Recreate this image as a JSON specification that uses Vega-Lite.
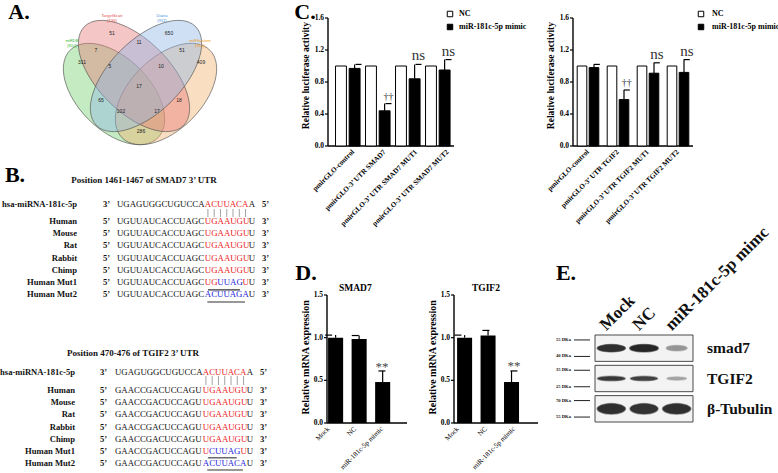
{
"$schema":"https://vega.github.io/schema/vega-lite/v6.json",
"width":778,"height":473,"autosize":{"type":"none"},"padding":0,"background":"white",
"config":{"view":{"stroke":null},"font":"Liberation Serif"},
"datasets":{
 "one":[{"k":1}],
 "letters":[{"id":"A","t":"A."},{"id":"B","t":"B."},{"id":"C","t":"C."},{"id":"D","t":"D."},{"id":"E","t":"E."},{"id":"D1","t":"SMAD7"},{"id":"D2","t":"TGIF2"},{"id":"CT","t":"Relative luciferase activity"},{"id":"DT","t":"Relative mRNA expression"}],
 "cticks":[{"v":0},{"v":0.4},{"v":0.8},{"v":1.2},{"v":1.6}],
 "dticks":[{"v":0},{"v":0.5},{"v":1.0},{"v":1.5}],
 "venn_sets":[
  {"set":"miRDB","label":"miRDB\n(810)","cx":54,"cy":84,"lx":12,"ly":31},
  {"set":"TargetScan","label":"TargetScan\n(136)","cx":74,"cy":66,"lx":52,"ly":6},
  {"set":"Diana","label":"Diana\n(911)","cx":86,"cy":66,"lx":102,"ly":6},
  {"set":"miRSystem","label":"miRSystem\n(910)","cx":106,"cy":84,"lx":140,"ly":31}],
 "venn_counts":[
  {"n":"311","x":22,"y":52},{"n":"51","x":52,"y":23},{"n":"650","x":109,"y":23},{"n":"409","x":141,"y":52},
  {"n":"7","x":36,"y":40},{"n":"11","x":79,"y":32},{"n":"51","x":122,"y":40},{"n":"5","x":50,"y":56},
  {"n":"10","x":101,"y":56},{"n":"17","x":79,"y":76},{"n":"65","x":41,"y":90},{"n":"18","x":119,"y":90},
  {"n":"102","x":61,"y":101},{"n":"17","x":97,"y":101},{"n":"286","x":81,"y":121}],
 "seqs":[
  {"block":1,"row":"hsa-miRNA-181c-5p","col":0,"seq":"UGAGUGGCUGUCCA","part":"flank"},
  {"block":1,"row":"hsa-miRNA-181c-5p","col":14,"seq":"ACUUACA","part":"seed"},
  {"block":1,"row":"hsa-miRNA-181c-5p","col":21,"seq":"A","part":"flank"},
  {"block":1,"row":"Human","col":0,"seq":"UGUUAUCACCUAGC","part":"flank"},{"block":1,"row":"Human","col":14,"seq":"UGAAUGU","part":"seed"},{"block":1,"row":"Human","col":21,"seq":"U","part":"flank"},
  {"block":1,"row":"Mouse","col":0,"seq":"UGUUAUCACCUAGC","part":"flank"},{"block":1,"row":"Mouse","col":14,"seq":"UGAAUGU","part":"seed"},{"block":1,"row":"Mouse","col":21,"seq":"U","part":"flank"},
  {"block":1,"row":"Rat","col":0,"seq":"UGUUAUCACCUAGC","part":"flank"},{"block":1,"row":"Rat","col":14,"seq":"UGAAUGU","part":"seed"},{"block":1,"row":"Rat","col":21,"seq":"U","part":"flank"},
  {"block":1,"row":"Rabbit","col":0,"seq":"UGUUAUCACCUAGC","part":"flank"},{"block":1,"row":"Rabbit","col":14,"seq":"UGAAUGU","part":"seed"},{"block":1,"row":"Rabbit","col":21,"seq":"U","part":"flank"},
  {"block":1,"row":"Chimp","col":0,"seq":"UGUUAUCACCUAGC","part":"flank"},{"block":1,"row":"Chimp","col":14,"seq":"UGAAUGU","part":"seed"},{"block":1,"row":"Chimp","col":21,"seq":"U","part":"flank"},
  {"block":1,"row":"Human Mut1","col":0,"seq":"UGUUAUCACCUAGC","part":"flank"},{"block":1,"row":"Human Mut1","col":14,"seq":"UG","part":"seed"},{"block":1,"row":"Human Mut1","col":16,"seq":"UUAG","part":"mut"},{"block":1,"row":"Human Mut1","col":20,"seq":"U","part":"seed"},{"block":1,"row":"Human Mut1","col":21,"seq":"U","part":"flank"},
  {"block":1,"row":"Human Mut2","col":0,"seq":"UGUUAUCACCUAGC","part":"flank"},{"block":1,"row":"Human Mut2","col":14,"seq":"ACUUAGA","part":"mut"},{"block":1,"row":"Human Mut2","col":21,"seq":"U","part":"flank"},
  {"block":2,"row":"hsa-miRNA-181c-5p","col":0,"seq":"UGAGUGGCUGUCCA","part":"flank"},
  {"block":2,"row":"hsa-miRNA-181c-5p","col":14,"seq":"ACUUACA","part":"seed"},
  {"block":2,"row":"hsa-miRNA-181c-5p","col":21,"seq":"A","part":"flank"},
  {"block":2,"row":"Human","col":0,"seq":"GAACCGACUCCAGU","part":"flank"},{"block":2,"row":"Human","col":14,"seq":"UGAAUGU","part":"seed"},{"block":2,"row":"Human","col":21,"seq":"U","part":"flank"},
  {"block":2,"row":"Mouse","col":0,"seq":"GAACCGACUCCAGU","part":"flank"},{"block":2,"row":"Mouse","col":14,"seq":"UGAAUGU","part":"seed"},{"block":2,"row":"Mouse","col":21,"seq":"U","part":"flank"},
  {"block":2,"row":"Rat","col":0,"seq":"GAACCGACUCCAGU","part":"flank"},{"block":2,"row":"Rat","col":14,"seq":"UGAAUGU","part":"seed"},{"block":2,"row":"Rat","col":21,"seq":"U","part":"flank"},
  {"block":2,"row":"Rabbit","col":0,"seq":"GAACCGACUCCAGU","part":"flank"},{"block":2,"row":"Rabbit","col":14,"seq":"UGAAUGU","part":"seed"},{"block":2,"row":"Rabbit","col":21,"seq":"U","part":"flank"},
  {"block":2,"row":"Chimp","col":0,"seq":"GAACCGACUCCAGU","part":"flank"},{"block":2,"row":"Chimp","col":14,"seq":"UGAAUGU","part":"seed"},{"block":2,"row":"Chimp","col":21,"seq":"U","part":"flank"},
  {"block":2,"row":"Human Mut1","col":0,"seq":"GAACCGACUCCAGU","part":"flank"},{"block":2,"row":"Human Mut1","col":14,"seq":"U","part":"seed"},{"block":2,"row":"Human Mut1","col":15,"seq":"CUUAG","part":"mut"},{"block":2,"row":"Human Mut1","col":20,"seq":"U","part":"seed"},{"block":2,"row":"Human Mut1","col":21,"seq":"U","part":"flank"},
  {"block":2,"row":"Human Mut2","col":0,"seq":"GAACCGACUCCAGU","part":"flank"},{"block":2,"row":"Human Mut2","col":14,"seq":"ACUUACA","part":"mut"},{"block":2,"row":"Human Mut2","col":21,"seq":"U","part":"flank"}],
 "rows":[
  {"block":1,"row":"hsa-miRNA-181c-5p","p5":"3’","p3":"5’"},{"block":1,"row":"Human","p5":"5’","p3":"3’"},{"block":1,"row":"Mouse","p5":"5’","p3":"3’"},{"block":1,"row":"Rat","p5":"5’","p3":"3’"},{"block":1,"row":"Rabbit","p5":"5’","p3":"3’"},{"block":1,"row":"Chimp","p5":"5’","p3":"3’"},{"block":1,"row":"Human Mut1","p5":"5’","p3":"3’"},{"block":1,"row":"Human Mut2","p5":"5’","p3":"3’"},
  {"block":2,"row":"hsa-miRNA-181c-5p","p5":"3’","p3":"5’"},{"block":2,"row":"Human","p5":"5’","p3":"3’"},{"block":2,"row":"Mouse","p5":"5’","p3":"3’"},{"block":2,"row":"Rat","p5":"5’","p3":"3’"},{"block":2,"row":"Rabbit","p5":"5’","p3":"3’"},{"block":2,"row":"Chimp","p5":"5’","p3":"3’"},{"block":2,"row":"Human Mut1","p5":"5’","p3":"3’"},{"block":2,"row":"Human Mut2","p5":"5’","p3":"3’"}],
 "blocks":[{"block":1,"title":"Position 1461-1467 of SMAD7 3’ UTR"},{"block":2,"title":"Position 470-476 of TGIF2 3’ UTR"}],
 "pairs":[{"block":1,"col":14},{"block":1,"col":15},{"block":1,"col":16},{"block":1,"col":17},{"block":1,"col":18},{"block":1,"col":19},{"block":1,"col":20},
  {"block":2,"col":14},{"block":2,"col":15},{"block":2,"col":16},{"block":2,"col":17},{"block":2,"col":18},{"block":2,"col":19},{"block":2,"col":20}],
 "underlines":[{"block":1,"row":"Human Mut1","c1":14.5,"c2":19.6},{"block":1,"row":"Human Mut2","c1":14.4,"c2":20.4},{"block":2,"row":"Human Mut1","c1":14.8,"c2":19.4},{"block":2,"row":"Human Mut2","c1":14.7,"c2":20.4}],
 "c1":[
  {"construct":"pmirGLO-control","group":"NC","value":1.0},
  {"construct":"pmirGLO-control","group":"miR-181c-5p mimic","value":0.97,"upper":1.02},
  {"construct":"pmirGLO-3’ UTR SMAD7","group":"NC","value":1.0},
  {"construct":"pmirGLO-3’ UTR SMAD7","group":"miR-181c-5p mimic","value":0.44,"upper":0.53,"sig":"††"},
  {"construct":"pmirGLO-3’ UTR SMAD7 MUT1","group":"NC","value":1.0},
  {"construct":"pmirGLO-3’ UTR SMAD7 MUT1","group":"miR-181c-5p mimic","value":0.84,"upper":1.02,"sig":"ns"},
  {"construct":"pmirGLO-3’ UTR SMAD7 MUT2","group":"NC","value":1.0},
  {"construct":"pmirGLO-3’ UTR SMAD7 MUT2","group":"miR-181c-5p mimic","value":0.95,"upper":1.08,"sig":"ns"}],
 "c2":[
  {"construct":"pmirGLO-control","group":"NC","value":1.0},
  {"construct":"pmirGLO-control","group":"miR-181c-5p mimic","value":0.98,"upper":1.02},
  {"construct":"pmirGLO-3’ UTR TGIF2","group":"NC","value":1.0},
  {"construct":"pmirGLO-3’ UTR TGIF2","group":"miR-181c-5p mimic","value":0.58,"upper":0.70,"sig":"††"},
  {"construct":"pmirGLO-3’ UTR TGIF2 MUT1","group":"NC","value":1.0},
  {"construct":"pmirGLO-3’ UTR TGIF2 MUT1","group":"miR-181c-5p mimic","value":0.91,"upper":1.04,"sig":"ns"},
  {"construct":"pmirGLO-3’ UTR TGIF2 MUT2","group":"NC","value":1.0},
  {"construct":"pmirGLO-3’ UTR TGIF2 MUT2","group":"miR-181c-5p mimic","value":0.92,"upper":1.08,"sig":"ns"}],
 "d1":[{"cond":"Mock","value":1.0,"upper":1.03},{"cond":"NC","value":0.985,"upper":1.025},{"cond":"miR-181c-5p mimic","value":0.48,"upper":0.61,"sig":"**"}],
 "d2":[{"cond":"Mock","value":1.0,"upper":1.03},{"cond":"NC","value":1.025,"upper":1.085},{"cond":"miR-181c-5p mimic","value":0.48,"upper":0.61,"sig":"**"}],
 "blot":[{"protein":"smad7"},{"protein":"TGIF2"},{"protein":"β-Tubulin"}],
 "markers":[{"protein":"smad7","pos":"top","label":"55 DKa"},{"protein":"smad7","pos":"bottom","label":"40 DKa"},{"protein":"TGIF2","pos":"top","label":"35 DKa"},{"protein":"TGIF2","pos":"bottom","label":"25 DKa"},{"protein":"β-Tubulin","pos":"top","label":"70 DKa"},{"protein":"β-Tubulin","pos":"bottom","label":"55 DKa"}],
 "bands":[{"protein":"smad7","lane":"Mock","intensity":1.0},{"protein":"smad7","lane":"NC","intensity":1.05},{"protein":"smad7","lane":"miR-181c-5p mimc","intensity":0.4},
  {"protein":"TGIF2","lane":"Mock","intensity":0.95},{"protein":"TGIF2","lane":"NC","intensity":0.9},{"protein":"TGIF2","lane":"miR-181c-5p mimc","intensity":0.32},
  {"protein":"β-Tubulin","lane":"Mock","intensity":1.0},{"protein":"β-Tubulin","lane":"NC","intensity":0.98},{"protein":"β-Tubulin","lane":"miR-181c-5p mimc","intensity":1.0}],
 "lanes":[{"lane":"Mock"},{"lane":"NC"},{"lane":"miR-181c-5p mimc"}]
},
"layer":[
 {"layer":[
  {"data":{"name":"venn_sets"},"transform":[{"filter":"datum.set==='miRDB'"}],
   "mark":{"type":"point","shape":"M -1 0 C -1 -0.32 -0.552 -0.58 0 -0.58 C 0.552 -0.58 1 -0.32 1 0 C 1 0.32 0.552 0.58 0 0.58 C -0.552 0.58 -1 0.32 -1 0 Z","size":15376,"angle":45,"filled":true,"fill":"#73cf6c","fillOpacity":0.42,"stroke":"#4d4d4d","strokeWidth":0.6,"opacity":1},
   "encoding":{"x":{"field":"cx","type":"quantitative","scale":{"domain":[0,160],"range":[60,220]},"axis":null},"y":{"field":"cy","type":"quantitative","scale":{"domain":[0,140],"range":[10,150]},"axis":null}}},
  {"data":{"name":"venn_sets"},"transform":[{"filter":"datum.set==='miRSystem'"}],
   "mark":{"type":"point","shape":"M -1 0 C -1 -0.32 -0.552 -0.58 0 -0.58 C 0.552 -0.58 1 -0.32 1 0 C 1 0.32 0.552 0.58 0 0.58 C -0.552 0.58 -1 0.32 -1 0 Z","size":15376,"angle":315,"filled":true,"fill":"#f2b06e","fillOpacity":0.42,"stroke":"#4d4d4d","strokeWidth":0.6,"opacity":1},
   "encoding":{"x":{"field":"cx","type":"quantitative","scale":{"domain":[0,160],"range":[60,220]},"axis":null},"y":{"field":"cy","type":"quantitative","scale":{"domain":[0,140],"range":[10,150]},"axis":null}}},
  {"data":{"name":"venn_sets"},"transform":[{"filter":"datum.set==='TargetScan'"}],
   "mark":{"type":"point","shape":"M -1 0 C -1 -0.284 -0.552 -0.514 0 -0.514 C 0.552 -0.514 1 -0.284 1 0 C 1 0.284 0.552 0.514 0 0.514 C -0.552 0.514 -1 0.284 -1 0 Z","size":19600,"angle":45,"filled":true,"fill":"#e67878","fillOpacity":0.42,"stroke":"#4d4d4d","strokeWidth":0.6,"opacity":1},
   "encoding":{"x":{"field":"cx","type":"quantitative","scale":{"domain":[0,160],"range":[60,220]},"axis":null},"y":{"field":"cy","type":"quantitative","scale":{"domain":[0,140],"range":[10,150]},"axis":null}}},
  {"data":{"name":"venn_sets"},"transform":[{"filter":"datum.set==='Diana'"}],
   "mark":{"type":"point","shape":"M -1 0 C -1 -0.284 -0.552 -0.514 0 -0.514 C 0.552 -0.514 1 -0.284 1 0 C 1 0.284 0.552 0.514 0 0.514 C -0.552 0.514 -1 0.284 -1 0 Z","size":19600,"angle":315,"filled":true,"fill":"#8db4e8","fillOpacity":0.42,"stroke":"#4d4d4d","strokeWidth":0.6,"opacity":1},
   "encoding":{"x":{"field":"cx","type":"quantitative","scale":{"domain":[0,160],"range":[60,220]},"axis":null},"y":{"field":"cy","type":"quantitative","scale":{"domain":[0,140],"range":[10,150]},"axis":null}}},
  {"data":{"name":"venn_counts"},"mark":{"type":"text","font":"Liberation Sans","fontSize":5,"color":"#222","baseline":"middle"},
   "encoding":{"x":{"field":"x","type":"quantitative","scale":{"domain":[0,160],"range":[60,220]},"axis":null},"y":{"field":"y","type":"quantitative","scale":{"domain":[0,140],"range":[10,150]},"axis":null},"text":{"field":"n"}}},
  {"data":{"name":"venn_sets"},"mark":{"type":"text","font":"Liberation Sans","fontSize":4.2,"lineBreak":"\n","lineHeight":4.6,"baseline":"middle"},
   "encoding":{"x":{"field":"lx","type":"quantitative","scale":{"domain":[0,160],"range":[60,220]},"axis":null},"y":{"field":"ly","type":"quantitative","scale":{"domain":[0,140],"range":[10,150]},"axis":null},"text":{"field":"label"},
   "color":{"field":"set","type":"nominal","scale":{"domain":["miRDB","TargetScan","Diana","miRSystem"],"range":["#34b834","#e34a4a","#4a8fe0","#f09a20"]},"legend":null}}},
  {"data":{"name":"letters"},"transform":[{"filter":"datum.id==='A'"}],"mark":{"type":"text","fontSize":22,"fontWeight":"bold","align":"center","baseline":"middle","dx":-41,"dy":2,"color":"black"},
   "encoding":{"x":{"datum":0,"type":"quantitative","scale":{"domain":[0,160],"range":[60,220]},"axis":null},"y":{"datum":0,"type":"quantitative","scale":{"domain":[0,140],"range":[10,150]},"axis":null},"text":{"field":"t"}}}
 ]},
 {"layer":[
  {"layer":[
   {"data":{"name":"seqs"},"transform":[{"filter":"datum.block===1 && datum.row==='hsa-miRNA-181c-5p'"}],
    "mark":{"type":"text","align":"left","baseline":"middle","fontSize":8.8},
    "encoding":{"x":{"field":"col","type":"quantitative","scale":{"domain":[0,22],"range":[117,255]},"axis":null},
     "y":{"field":"row","type":"nominal","scale":{"type":"point","domain":["hsa-miRNA-181c-5p"],"range":[204,204]},"axis":null},
     "text":{"field":"seq"},
     "color":{"field":"part","type":"nominal","scale":{"domain":["flank","seed","mut"],"range":["#111111","#ec1c24","#1f1fd8"]},"legend":null}}},
   {"data":{"name":"rows"},"transform":[{"filter":"datum.block===1 && datum.row==='hsa-miRNA-181c-5p'"}],
    "mark":{"type":"text","align":"right","baseline":"middle","fontSize":8.6,"fontWeight":"bold","dx":-40,"color":"#111"},
    "encoding":{"x":{"datum":0,"type":"quantitative","scale":{"domain":[0,22],"range":[117,255]},"axis":null},"y":{"field":"row","type":"nominal","scale":{"type":"point","domain":["hsa-miRNA-181c-5p"],"range":[204,204]},"axis":null},"text":{"field":"row"}}},
   {"data":{"name":"rows"},"transform":[{"filter":"datum.block===1 && datum.row==='hsa-miRNA-181c-5p'"}],
    "mark":{"type":"text","align":"left","baseline":"middle","fontSize":8.6,"fontWeight":"bold","dx":-14,"color":"#111"},
    "encoding":{"x":{"datum":0,"type":"quantitative","scale":{"domain":[0,22],"range":[117,255]},"axis":null},"y":{"field":"row","type":"nominal","scale":{"type":"point","domain":["hsa-miRNA-181c-5p"],"range":[204,204]},"axis":null},"text":{"field":"p5"}}},
   {"data":{"name":"rows"},"transform":[{"filter":"datum.block===1 && datum.row==='hsa-miRNA-181c-5p'"}],
    "mark":{"type":"text","align":"left","baseline":"middle","fontSize":8.6,"fontWeight":"bold","dx":7,"color":"#111"},
    "encoding":{"x":{"datum":22,"type":"quantitative","scale":{"domain":[0,22],"range":[117,255]},"axis":null},"y":{"field":"row","type":"nominal","scale":{"type":"point","domain":["hsa-miRNA-181c-5p"],"range":[204,204]},"axis":null},"text":{"field":"p3"}}},
   {"data":{"name":"blocks"},"transform":[{"filter":"datum.block===1"}],
    "mark":{"type":"text","align":"center","baseline":"middle","fontSize":9,"fontWeight":"bold","dx":27,"dy":-24,"color":"#111"},
    "encoding":{"x":{"datum":0,"type":"quantitative","scale":{"domain":[0,22],"range":[117,255]},"axis":null},"y":{"datum":"hsa-miRNA-181c-5p","type":"nominal","scale":{"type":"point","domain":["hsa-miRNA-181c-5p"],"range":[204,204]},"axis":null},"text":{"field":"title"}}},
   {"data":{"name":"letters"},"transform":[{"filter":"datum.id==='B'"}],
    "mark":{"type":"text","align":"center","baseline":"middle","fontSize":22,"fontWeight":"bold","dx":-102,"dy":-29,"color":"black"},
    "encoding":{"x":{"datum":0,"type":"quantitative","scale":{"domain":[0,22],"range":[117,255]},"axis":null},"y":{"datum":"hsa-miRNA-181c-5p","type":"nominal","scale":{"type":"point","domain":["hsa-miRNA-181c-5p"],"range":[204,204]},"axis":null},"text":{"field":"t"}}},
   {"data":{"name":"pairs"},"transform":[{"filter":"datum.block===1"}],
    "mark":{"type":"rule","color":"#8a8a8a","strokeWidth":0.8,"xOffset":3.1,"yOffset":5,"y2Offset":13},
    "encoding":{"x":{"field":"col","type":"quantitative","scale":{"domain":[0,22],"range":[117,255]},"axis":null},"y":{"datum":"hsa-miRNA-181c-5p","type":"nominal","scale":{"type":"point","domain":["hsa-miRNA-181c-5p"],"range":[204,204]},"axis":null},"y2":{"datum":"hsa-miRNA-181c-5p"}}}
  ]},
  {"layer":[
   {"data":{"name":"seqs"},"transform":[{"filter":"datum.block===1 && datum.row!=='hsa-miRNA-181c-5p'"}],
    "mark":{"type":"text","align":"left","baseline":"middle","fontSize":8.8},
    "encoding":{"x":{"field":"col","type":"quantitative","scale":{"domain":[0,22],"range":[117,255]},"axis":null},
     "y":{"field":"row","type":"nominal","scale":{"type":"point","domain":["Human","Mouse","Rat","Rabbit","Chimp","Human Mut1","Human Mut2"],"range":[221,294],"padding":0},"axis":null},
     "text":{"field":"seq"},
     "color":{"field":"part","type":"nominal","scale":{"domain":["flank","seed","mut"],"range":["#111111","#ec1c24","#1f1fd8"]},"legend":null}}},
   {"data":{"name":"rows"},"transform":[{"filter":"datum.block===1 && datum.row!=='hsa-miRNA-181c-5p'"}],
    "mark":{"type":"text","align":"right","baseline":"middle","fontSize":8.6,"fontWeight":"bold","dx":-40,"color":"#111"},
    "encoding":{"x":{"datum":0,"type":"quantitative","scale":{"domain":[0,22],"range":[117,255]},"axis":null},"y":{"field":"row","type":"nominal","scale":{"type":"point","domain":["Human","Mouse","Rat","Rabbit","Chimp","Human Mut1","Human Mut2"],"range":[221,294],"padding":0},"axis":null},"text":{"field":"row"}}},
   {"data":{"name":"rows"},"transform":[{"filter":"datum.block===1 && datum.row!=='hsa-miRNA-181c-5p'"}],
    "mark":{"type":"text","align":"left","baseline":"middle","fontSize":8.6,"fontWeight":"bold","dx":-14,"color":"#111"},
    "encoding":{"x":{"datum":0,"type":"quantitative","scale":{"domain":[0,22],"range":[117,255]},"axis":null},"y":{"field":"row","type":"nominal","scale":{"type":"point","domain":["Human","Mouse","Rat","Rabbit","Chimp","Human Mut1","Human Mut2"],"range":[221,294],"padding":0},"axis":null},"text":{"field":"p5"}}},
   {"data":{"name":"rows"},"transform":[{"filter":"datum.block===1 && datum.row!=='hsa-miRNA-181c-5p'"}],
    "mark":{"type":"text","align":"left","baseline":"middle","fontSize":8.6,"fontWeight":"bold","dx":7,"color":"#111"},
    "encoding":{"x":{"datum":22,"type":"quantitative","scale":{"domain":[0,22],"range":[117,255]},"axis":null},"y":{"field":"row","type":"nominal","scale":{"type":"point","domain":["Human","Mouse","Rat","Rabbit","Chimp","Human Mut1","Human Mut2"],"range":[221,294],"padding":0},"axis":null},"text":{"field":"p3"}}},
   {"data":{"name":"underlines"},"transform":[{"filter":"datum.block===1"}],
    "mark":{"type":"rule","color":"#333","strokeWidth":1.1,"yOffset":8},
    "encoding":{"x":{"field":"c1","type":"quantitative","scale":{"domain":[0,22],"range":[117,255]},"axis":null},"x2":{"field":"c2"},"y":{"field":"row","type":"nominal","scale":{"type":"point","domain":["Human","Mouse","Rat","Rabbit","Chimp","Human Mut1","Human Mut2"],"range":[221,294],"padding":0},"axis":null}}}
  ]}
 ],"resolve":{"scale":{"y":"independent"}}},
 {"layer":[
  {"layer":[
   {"data":{"name":"seqs"},"transform":[{"filter":"datum.block===2 && datum.row==='hsa-miRNA-181c-5p'"}],
    "mark":{"type":"text","align":"left","baseline":"middle","fontSize":8.8},
    "encoding":{"x":{"field":"col","type":"quantitative","scale":{"domain":[0,22],"range":[115,253]},"axis":null},
     "y":{"field":"row","type":"nominal","scale":{"type":"point","domain":["hsa-miRNA-181c-5p"],"range":[372,372]},"axis":null},
     "text":{"field":"seq"},
     "color":{"field":"part","type":"nominal","scale":{"domain":["flank","seed","mut"],"range":["#111111","#ec1c24","#1f1fd8"]},"legend":null}}},
   {"data":{"name":"rows"},"transform":[{"filter":"datum.block===2 && datum.row==='hsa-miRNA-181c-5p'"}],
    "mark":{"type":"text","align":"right","baseline":"middle","fontSize":8.6,"fontWeight":"bold","dx":-40,"color":"#111"},
    "encoding":{"x":{"datum":0,"type":"quantitative","scale":{"domain":[0,22],"range":[115,253]},"axis":null},"y":{"field":"row","type":"nominal","scale":{"type":"point","domain":["hsa-miRNA-181c-5p"],"range":[372,372]},"axis":null},"text":{"field":"row"}}},
   {"data":{"name":"rows"},"transform":[{"filter":"datum.block===2 && datum.row==='hsa-miRNA-181c-5p'"}],
    "mark":{"type":"text","align":"left","baseline":"middle","fontSize":8.6,"fontWeight":"bold","dx":-15,"color":"#111"},
    "encoding":{"x":{"datum":0,"type":"quantitative","scale":{"domain":[0,22],"range":[115,253]},"axis":null},"y":{"field":"row","type":"nominal","scale":{"type":"point","domain":["hsa-miRNA-181c-5p"],"range":[372,372]},"axis":null},"text":{"field":"p5"}}},
   {"data":{"name":"rows"},"transform":[{"filter":"datum.block===2 && datum.row==='hsa-miRNA-181c-5p'"}],
    "mark":{"type":"text","align":"left","baseline":"middle","fontSize":8.6,"fontWeight":"bold","dx":7,"color":"#111"},
    "encoding":{"x":{"datum":22,"type":"quantitative","scale":{"domain":[0,22],"range":[115,253]},"axis":null},"y":{"field":"row","type":"nominal","scale":{"type":"point","domain":["hsa-miRNA-181c-5p"],"range":[372,372]},"axis":null},"text":{"field":"p3"}}},
   {"data":{"name":"blocks"},"transform":[{"filter":"datum.block===2"}],
    "mark":{"type":"text","align":"center","baseline":"middle","fontSize":9,"fontWeight":"bold","dx":18,"dy":-19,"color":"#111"},
    "encoding":{"x":{"datum":0,"type":"quantitative","scale":{"domain":[0,22],"range":[115,253]},"axis":null},"y":{"datum":"hsa-miRNA-181c-5p","type":"nominal","scale":{"type":"point","domain":["hsa-miRNA-181c-5p"],"range":[372,372]},"axis":null},"text":{"field":"title"}}},
   {"data":{"name":"pairs"},"transform":[{"filter":"datum.block===2"}],
    "mark":{"type":"rule","color":"#8a8a8a","strokeWidth":0.8,"xOffset":3.1,"yOffset":4,"y2Offset":13},
    "encoding":{"x":{"field":"col","type":"quantitative","scale":{"domain":[0,22],"range":[115,253]},"axis":null},"y":{"datum":"hsa-miRNA-181c-5p","type":"nominal","scale":{"type":"point","domain":["hsa-miRNA-181c-5p"],"range":[372,372]},"axis":null},"y2":{"datum":"hsa-miRNA-181c-5p"}}}
  ]},
  {"layer":[
   {"data":{"name":"seqs"},"transform":[{"filter":"datum.block===2 && datum.row!=='hsa-miRNA-181c-5p'"}],
    "mark":{"type":"text","align":"left","baseline":"middle","fontSize":8.8},
    "encoding":{"x":{"field":"col","type":"quantitative","scale":{"domain":[0,22],"range":[115,253]},"axis":null},
     "y":{"field":"row","type":"nominal","scale":{"type":"point","domain":["Human","Mouse","Rat","Rabbit","Chimp","Human Mut1","Human Mut2"],"range":[390,463],"padding":0},"axis":null},
     "text":{"field":"seq"},
     "color":{"field":"part","type":"nominal","scale":{"domain":["flank","seed","mut"],"range":["#111111","#ec1c24","#1f1fd8"]},"legend":null}}},
   {"data":{"name":"rows"},"transform":[{"filter":"datum.block===2 && datum.row!=='hsa-miRNA-181c-5p'"}],
    "mark":{"type":"text","align":"right","baseline":"middle","fontSize":8.6,"fontWeight":"bold","dx":-40,"color":"#111"},
    "encoding":{"x":{"datum":0,"type":"quantitative","scale":{"domain":[0,22],"range":[115,253]},"axis":null},"y":{"field":"row","type":"nominal","scale":{"type":"point","domain":["Human","Mouse","Rat","Rabbit","Chimp","Human Mut1","Human Mut2"],"range":[390,463],"padding":0},"axis":null},"text":{"field":"row"}}},
   {"data":{"name":"rows"},"transform":[{"filter":"datum.block===2 && datum.row!=='hsa-miRNA-181c-5p'"}],
    "mark":{"type":"text","align":"left","baseline":"middle","fontSize":8.6,"fontWeight":"bold","dx":-15,"color":"#111"},
    "encoding":{"x":{"datum":0,"type":"quantitative","scale":{"domain":[0,22],"range":[115,253]},"axis":null},"y":{"field":"row","type":"nominal","scale":{"type":"point","domain":["Human","Mouse","Rat","Rabbit","Chimp","Human Mut1","Human Mut2"],"range":[390,463],"padding":0},"axis":null},"text":{"field":"p5"}}},
   {"data":{"name":"rows"},"transform":[{"filter":"datum.block===2 && datum.row!=='hsa-miRNA-181c-5p'"}],
    "mark":{"type":"text","align":"left","baseline":"middle","fontSize":8.6,"fontWeight":"bold","dx":7,"color":"#111"},
    "encoding":{"x":{"datum":22,"type":"quantitative","scale":{"domain":[0,22],"range":[115,253]},"axis":null},"y":{"field":"row","type":"nominal","scale":{"type":"point","domain":["Human","Mouse","Rat","Rabbit","Chimp","Human Mut1","Human Mut2"],"range":[390,463],"padding":0},"axis":null},"text":{"field":"p3"}}},
   {"data":{"name":"underlines"},"transform":[{"filter":"datum.block===2"}],
    "mark":{"type":"rule","color":"#333","strokeWidth":1.1,"yOffset":7},
    "encoding":{"x":{"field":"c1","type":"quantitative","scale":{"domain":[0,22],"range":[115,253]},"axis":null},"x2":{"field":"c2"},"y":{"field":"row","type":"nominal","scale":{"type":"point","domain":["Human","Mouse","Rat","Rabbit","Chimp","Human Mut1","Human Mut2"],"range":[390,463],"padding":0},"axis":null}}}
  ]}
 ],"resolve":{"scale":{"y":"independent"}}},
 {"layer":[
  {"data":{"name":"one"},"mark":{"type":"rule","color":"black","strokeWidth":1.4},
   "encoding":{"x":{"datum":0,"type":"quantitative","scale":{"domain":[0,1],"range":[328,454]},"axis":null},"y":{"datum":0,"type":"quantitative","scale":{"domain":[0,1.6],"range":[146,18],"nice":false,"zero":false},"axis":null},"y2":{"datum":1.6}}},
  {"data":{"name":"one"},"mark":{"type":"rule","color":"black","strokeWidth":1.4},
   "encoding":{"x":{"datum":0,"type":"quantitative","scale":{"domain":[0,1],"range":[328,454]},"axis":null},"x2":{"datum":1},"y":{"datum":0,"type":"quantitative","scale":{"domain":[0,1.6],"range":[146,18],"nice":false,"zero":false},"axis":null}}},
  {"data":{"name":"cticks"},"mark":{"type":"rule","color":"black","strokeWidth":1.2,"xOffset":-3},
   "encoding":{"x":{"datum":0,"type":"quantitative","scale":{"domain":[0,1],"range":[328,454]},"axis":null},"x2":{"datum":0},"y":{"field":"v","type":"quantitative","scale":{"domain":[0,1.6],"range":[146,18],"nice":false,"zero":false},"axis":null}}},
  {"data":{"name":"cticks"},"mark":{"type":"text","align":"right","baseline":"middle","fontSize":7.5,"fontWeight":"bold","dx":-4,"color":"black"},
   "encoding":{"x":{"datum":0,"type":"quantitative","scale":{"domain":[0,1],"range":[328,454]},"axis":null},"y":{"field":"v","type":"quantitative","scale":{"domain":[0,1.6],"range":[146,18],"nice":false,"zero":false},"axis":null},"text":{"field":"v","type":"quantitative","format":".1f"}}},
  {"data":{"name":"letters"},"transform":[{"filter":"datum.id==='CT'"}],"mark":{"type":"text","align":"center","baseline":"middle","fontSize":9.5,"fontWeight":"bold","angle":270,"xOffset":-22,"color":"black"},
   "encoding":{"x":{"datum":0,"type":"quantitative","scale":{"domain":[0,1],"range":[328,454]},"axis":null},"y":{"datum":0.88,"type":"quantitative","scale":{"domain":[0,1.6],"range":[146,18],"nice":false,"zero":false},"axis":null},"text":{"field":"t"}}},
  {"data":{"name":"c1"},"transform":[{"filter":"datum.group==='NC'"}],"mark":{"type":"text","align":"right","baseline":"middle","fontSize":7.2,"fontWeight":"bold","angle":315,"yOffset":5,"color":"black"},
   "encoding":{"x":{"field":"construct","type":"nominal","sort":null,"scale":{"domain":["pmirGLO-control","pmirGLO-3’ UTR SMAD7","pmirGLO-3’ UTR SMAD7 MUT1","pmirGLO-3’ UTR SMAD7 MUT2"],"range":[328,454],"paddingInner":0,"paddingOuter":0.1,"align":0.8},"axis":null},"y":{"datum":0,"type":"quantitative","scale":{"domain":[0,1.6],"range":[146,18],"nice":false,"zero":false},"axis":null},"text":{"field":"construct"}}},
  {"data":{"name":"c1"},"mark":{"type":"bar","stroke":"black","strokeWidth":1},
   "encoding":{
    "x":{"field":"construct","type":"nominal","sort":null,"scale":{"domain":["pmirGLO-control","pmirGLO-3’ UTR SMAD7","pmirGLO-3’ UTR SMAD7 MUT1","pmirGLO-3’ UTR SMAD7 MUT2"],"range":[328,454],"paddingInner":0,"paddingOuter":0.1,"align":0.8},"axis":null},
    "xOffset":{"field":"group","type":"nominal","sort":null,"scale":{"domain":["NC","miR-181c-5p mimic"],"paddingInner":0.2,"paddingOuter":0.2}},
    "y":{"field":"value","type":"quantitative","scale":{"domain":[0,1.6],"range":[146,18],"nice":false,"zero":false},"axis":null},
    "fill":{"field":"group","type":"nominal","sort":null,"scale":{"domain":["NC","miR-181c-5p mimic"],"range":["white","black"]},"legend":{"orient":"none","legendX":446,"legendY":10,"title":null,"symbolType":"square","symbolSize":30,"symbolStrokeColor":"black","symbolStrokeWidth":1,"labelFont":"Liberation Serif","labelFontSize":8,"labelFontWeight":"bold","labelColor":"black","labelOffset":5,"rowPadding":3,"padding":0}}}},
  {"data":{"name":"c1"},"transform":[{"filter":"isValid(datum.upper)"}],"mark":{"type":"rule","color":"black","strokeWidth":1.2},
   "encoding":{"x":{"field":"construct","type":"nominal","sort":null,"scale":{"domain":["pmirGLO-control","pmirGLO-3’ UTR SMAD7","pmirGLO-3’ UTR SMAD7 MUT1","pmirGLO-3’ UTR SMAD7 MUT2"],"range":[328,454],"paddingInner":0,"paddingOuter":0.1,"align":0.8},"axis":null},
    "xOffset":{"field":"group","type":"nominal","sort":null,"scale":{"domain":["NC","miR-181c-5p mimic"],"paddingInner":0.2,"paddingOuter":0.2}},
    "y":{"field":"value","type":"quantitative","scale":{"domain":[0,1.6],"range":[146,18],"nice":false,"zero":false},"axis":null},"y2":{"field":"upper"}}},
  {"data":{"name":"c1"},"transform":[{"filter":"isValid(datum.upper)"}],"mark":{"type":"point","shape":"stroke","size":36,"color":"black","strokeWidth":1.2,"opacity":1},
   "encoding":{"x":{"field":"construct","type":"nominal","sort":null,"scale":{"domain":["pmirGLO-control","pmirGLO-3’ UTR SMAD7","pmirGLO-3’ UTR SMAD7 MUT1","pmirGLO-3’ UTR SMAD7 MUT2"],"range":[328,454],"paddingInner":0,"paddingOuter":0.1,"align":0.8},"axis":null},
    "xOffset":{"field":"group","type":"nominal","sort":null,"scale":{"domain":["NC","miR-181c-5p mimic"],"paddingInner":0.2,"paddingOuter":0.2}},
    "y":{"field":"upper","type":"quantitative","scale":{"domain":[0,1.6],"range":[146,18],"nice":false,"zero":false},"axis":null}}},
  {"data":{"name":"c1"},"transform":[{"filter":"datum.sig==='ns'"}],"mark":{"type":"text","fontSize":15,"baseline":"alphabetic","dy":-4,"fill":"#333333"},
   "encoding":{"x":{"field":"construct","type":"nominal","sort":null,"scale":{"domain":["pmirGLO-control","pmirGLO-3’ UTR SMAD7","pmirGLO-3’ UTR SMAD7 MUT1","pmirGLO-3’ UTR SMAD7 MUT2"],"range":[328,454],"paddingInner":0,"paddingOuter":0.1,"align":0.8},"axis":null},
    "xOffset":{"field":"group","type":"nominal","sort":null,"scale":{"domain":["NC","miR-181c-5p mimic"],"paddingInner":0.2,"paddingOuter":0.2}},
    "y":{"field":"upper","type":"quantitative","scale":{"domain":[0,1.6],"range":[146,18],"nice":false,"zero":false},"axis":null},"text":{"field":"sig"}}},
  {"data":{"name":"c1"},"transform":[{"filter":"datum.sig==='††'"}],"mark":{"type":"text","fontSize":10,"baseline":"alphabetic","dy":-4,"fill":"#333333"},
   "encoding":{"x":{"field":"construct","type":"nominal","sort":null,"scale":{"domain":["pmirGLO-control","pmirGLO-3’ UTR SMAD7","pmirGLO-3’ UTR SMAD7 MUT1","pmirGLO-3’ UTR SMAD7 MUT2"],"range":[328,454],"paddingInner":0,"paddingOuter":0.1,"align":0.8},"axis":null},
    "xOffset":{"field":"group","type":"nominal","sort":null,"scale":{"domain":["NC","miR-181c-5p mimic"],"paddingInner":0.2,"paddingOuter":0.2}},
    "y":{"field":"upper","type":"quantitative","scale":{"domain":[0,1.6],"range":[146,18],"nice":false,"zero":false},"axis":null},"text":{"field":"sig"}}},
  {"data":{"name":"letters"},"transform":[{"filter":"datum.id==='C'"}],"mark":{"type":"text","fontSize":22,"fontWeight":"bold","align":"center","baseline":"middle","dx":-23,"dy":-6,"color":"black"},
   "encoding":{"x":{"datum":0,"type":"quantitative","scale":{"domain":[0,1],"range":[328,454]},"axis":null},
    "y":{"datum":1.6,"type":"quantitative","scale":{"domain":[0,1.6],"range":[146,18],"nice":false,"zero":false},"axis":null},"text":{"field":"t"}}}
 ],"resolve":{"scale":{"x":"independent","xOffset":"independent"}}},
 {"layer":[
  {"data":{"name":"one"},"mark":{"type":"rule","color":"black","strokeWidth":1.4},
   "encoding":{"x":{"datum":0,"type":"quantitative","scale":{"domain":[0,1],"range":[573,693]},"axis":null},"y":{"datum":0,"type":"quantitative","scale":{"domain":[0,1.6],"range":[146,18],"nice":false,"zero":false},"axis":null},"y2":{"datum":1.6}}},
  {"data":{"name":"one"},"mark":{"type":"rule","color":"black","strokeWidth":1.4},
   "encoding":{"x":{"datum":0,"type":"quantitative","scale":{"domain":[0,1],"range":[573,693]},"axis":null},"x2":{"datum":1},"y":{"datum":0,"type":"quantitative","scale":{"domain":[0,1.6],"range":[146,18],"nice":false,"zero":false},"axis":null}}},
  {"data":{"name":"cticks"},"mark":{"type":"rule","color":"black","strokeWidth":1.2,"xOffset":-3},
   "encoding":{"x":{"datum":0,"type":"quantitative","scale":{"domain":[0,1],"range":[573,693]},"axis":null},"x2":{"datum":0},"y":{"field":"v","type":"quantitative","scale":{"domain":[0,1.6],"range":[146,18],"nice":false,"zero":false},"axis":null}}},
  {"data":{"name":"cticks"},"mark":{"type":"text","align":"right","baseline":"middle","fontSize":7.5,"fontWeight":"bold","dx":-4,"color":"black"},
   "encoding":{"x":{"datum":0,"type":"quantitative","scale":{"domain":[0,1],"range":[573,693]},"axis":null},"y":{"field":"v","type":"quantitative","scale":{"domain":[0,1.6],"range":[146,18],"nice":false,"zero":false},"axis":null},"text":{"field":"v","type":"quantitative","format":".1f"}}},
  {"data":{"name":"letters"},"transform":[{"filter":"datum.id==='CT'"}],"mark":{"type":"text","align":"center","baseline":"middle","fontSize":9.5,"fontWeight":"bold","angle":270,"xOffset":-22,"color":"black"},
   "encoding":{"x":{"datum":0,"type":"quantitative","scale":{"domain":[0,1],"range":[573,693]},"axis":null},"y":{"datum":0.88,"type":"quantitative","scale":{"domain":[0,1.6],"range":[146,18],"nice":false,"zero":false},"axis":null},"text":{"field":"t"}}},
  {"data":{"name":"c2"},"transform":[{"filter":"datum.group==='NC'"}],"mark":{"type":"text","align":"right","baseline":"middle","fontSize":7.2,"fontWeight":"bold","angle":315,"yOffset":5,"color":"black"},
   "encoding":{"x":{"field":"construct","type":"nominal","sort":null,"scale":{"domain":["pmirGLO-control","pmirGLO-3’ UTR TGIF2","pmirGLO-3’ UTR TGIF2 MUT1","pmirGLO-3’ UTR TGIF2 MUT2"],"range":[573,693],"paddingInner":0,"paddingOuter":0},"axis":null},"y":{"datum":0,"type":"quantitative","scale":{"domain":[0,1.6],"range":[146,18],"nice":false,"zero":false},"axis":null},"text":{"field":"construct"}}},
  {"data":{"name":"c2"},"mark":{"type":"bar","stroke":"black","strokeWidth":1},
   "encoding":{
    "x":{"field":"construct","type":"nominal","sort":null,"scale":{"domain":["pmirGLO-control","pmirGLO-3’ UTR TGIF2","pmirGLO-3’ UTR TGIF2 MUT1","pmirGLO-3’ UTR TGIF2 MUT2"],"range":[573,693],"paddingInner":0,"paddingOuter":0},"axis":null},
    "xOffset":{"field":"group","type":"nominal","sort":null,"scale":{"domain":["NC","miR-181c-5p mimic"],"paddingInner":0.2,"paddingOuter":0.35}},
    "y":{"field":"value","type":"quantitative","scale":{"domain":[0,1.6],"range":[146,18],"nice":false,"zero":false},"axis":null},
    "fill":{"field":"group","type":"nominal","sort":null,"scale":{"domain":["NC","miR-181c-5p mimic"],"range":["white","black"]},"legend":{"orient":"none","legendX":697,"legendY":10,"title":null,"symbolType":"square","symbolSize":30,"symbolStrokeColor":"black","symbolStrokeWidth":1,"labelFont":"Liberation Serif","labelFontSize":8,"labelFontWeight":"bold","labelColor":"black","labelOffset":7,"rowPadding":3,"padding":0}}}},
  {"data":{"name":"c2"},"transform":[{"filter":"isValid(datum.upper)"}],"mark":{"type":"rule","color":"black","strokeWidth":1.2},
   "encoding":{"x":{"field":"construct","type":"nominal","sort":null,"scale":{"domain":["pmirGLO-control","pmirGLO-3’ UTR TGIF2","pmirGLO-3’ UTR TGIF2 MUT1","pmirGLO-3’ UTR TGIF2 MUT2"],"range":[573,693],"paddingInner":0,"paddingOuter":0},"axis":null},
    "xOffset":{"field":"group","type":"nominal","sort":null,"scale":{"domain":["NC","miR-181c-5p mimic"],"paddingInner":0.2,"paddingOuter":0.35}},
    "y":{"field":"value","type":"quantitative","scale":{"domain":[0,1.6],"range":[146,18],"nice":false,"zero":false},"axis":null},"y2":{"field":"upper"}}},
  {"data":{"name":"c2"},"transform":[{"filter":"isValid(datum.upper)"}],"mark":{"type":"point","shape":"stroke","size":36,"color":"black","strokeWidth":1.2,"opacity":1},
   "encoding":{"x":{"field":"construct","type":"nominal","sort":null,"scale":{"domain":["pmirGLO-control","pmirGLO-3’ UTR TGIF2","pmirGLO-3’ UTR TGIF2 MUT1","pmirGLO-3’ UTR TGIF2 MUT2"],"range":[573,693],"paddingInner":0,"paddingOuter":0},"axis":null},
    "xOffset":{"field":"group","type":"nominal","sort":null,"scale":{"domain":["NC","miR-181c-5p mimic"],"paddingInner":0.2,"paddingOuter":0.35}},
    "y":{"field":"upper","type":"quantitative","scale":{"domain":[0,1.6],"range":[146,18],"nice":false,"zero":false},"axis":null}}},
  {"data":{"name":"c2"},"transform":[{"filter":"datum.sig==='ns'"}],"mark":{"type":"text","fontSize":15,"baseline":"alphabetic","dy":-4,"fill":"#333333"},
   "encoding":{"x":{"field":"construct","type":"nominal","sort":null,"scale":{"domain":["pmirGLO-control","pmirGLO-3’ UTR TGIF2","pmirGLO-3’ UTR TGIF2 MUT1","pmirGLO-3’ UTR TGIF2 MUT2"],"range":[573,693],"paddingInner":0,"paddingOuter":0},"axis":null},
    "xOffset":{"field":"group","type":"nominal","sort":null,"scale":{"domain":["NC","miR-181c-5p mimic"],"paddingInner":0.2,"paddingOuter":0.35}},
    "y":{"field":"upper","type":"quantitative","scale":{"domain":[0,1.6],"range":[146,18],"nice":false,"zero":false},"axis":null},"text":{"field":"sig"}}},
  {"data":{"name":"c2"},"transform":[{"filter":"datum.sig==='††'"}],"mark":{"type":"text","fontSize":10,"baseline":"alphabetic","dy":-4,"fill":"#333333"},
   "encoding":{"x":{"field":"construct","type":"nominal","sort":null,"scale":{"domain":["pmirGLO-control","pmirGLO-3’ UTR TGIF2","pmirGLO-3’ UTR TGIF2 MUT1","pmirGLO-3’ UTR TGIF2 MUT2"],"range":[573,693],"paddingInner":0,"paddingOuter":0},"axis":null},
    "xOffset":{"field":"group","type":"nominal","sort":null,"scale":{"domain":["NC","miR-181c-5p mimic"],"paddingInner":0.2,"paddingOuter":0.35}},
    "y":{"field":"upper","type":"quantitative","scale":{"domain":[0,1.6],"range":[146,18],"nice":false,"zero":false},"axis":null},"text":{"field":"sig"}}}
 ],"resolve":{"scale":{"x":"independent","xOffset":"independent"}}},
 {"layer":[
  {"data":{"name":"one"},"mark":{"type":"rule","color":"black","strokeWidth":1.4},
   "encoding":{"x":{"datum":0,"type":"quantitative","scale":{"domain":[0,1],"range":[327,407]},"axis":null},"y":{"datum":0,"type":"quantitative","scale":{"domain":[0,1.5],"range":[423,295],"nice":false,"zero":false},"axis":null},"y2":{"datum":1.5}}},
  {"data":{"name":"one"},"mark":{"type":"rule","color":"black","strokeWidth":1.4},
   "encoding":{"x":{"datum":0,"type":"quantitative","scale":{"domain":[0,1],"range":[327,407]},"axis":null},"x2":{"datum":1},"y":{"datum":0,"type":"quantitative","scale":{"domain":[0,1.5],"range":[423,295],"nice":false,"zero":false},"axis":null}}},
  {"data":{"name":"dticks"},"mark":{"type":"rule","color":"black","strokeWidth":1.2,"xOffset":-3},
   "encoding":{"x":{"datum":0,"type":"quantitative","scale":{"domain":[0,1],"range":[327,407]},"axis":null},"x2":{"datum":0},"y":{"field":"v","type":"quantitative","scale":{"domain":[0,1.5],"range":[423,295],"nice":false,"zero":false},"axis":null}}},
  {"data":{"name":"dticks"},"mark":{"type":"text","align":"right","baseline":"middle","fontSize":7.5,"fontWeight":"bold","dx":-4,"color":"black"},
   "encoding":{"x":{"datum":0,"type":"quantitative","scale":{"domain":[0,1],"range":[327,407]},"axis":null},"y":{"field":"v","type":"quantitative","scale":{"domain":[0,1.5],"range":[423,295],"nice":false,"zero":false},"axis":null},"text":{"field":"v","type":"quantitative","format":".1f"}}},
  {"data":{"name":"letters"},"transform":[{"filter":"datum.id==='DT'"}],"mark":{"type":"text","align":"center","baseline":"middle","fontSize":10,"fontWeight":"bold","angle":270,"xOffset":-21,"color":"black"},
   "encoding":{"x":{"datum":0,"type":"quantitative","scale":{"domain":[0,1],"range":[327,407]},"axis":null},"y":{"datum":0.77,"type":"quantitative","scale":{"domain":[0,1.5],"range":[423,295],"nice":false,"zero":false},"axis":null},"text":{"field":"t"}}},
  {"data":{"name":"d1"},"mark":{"type":"text","align":"right","baseline":"middle","fontSize":7,"angle":315,"yOffset":5,"color":"black"},
   "encoding":{"x":{"field":"cond","type":"nominal","sort":null,"scale":{"domain":["Mock","NC","miR-181c-5p mimic"],"range":[327,407],"paddingInner":0.36,"paddingOuter":0.38,"align":0.06},"axis":null},"y":{"datum":0,"type":"quantitative","scale":{"domain":[0,1.5],"range":[423,295],"nice":false,"zero":false},"axis":null},"text":{"field":"cond"}}},
  {"data":{"name":"d1"},"mark":{"type":"bar","color":"black"},
   "encoding":{"x":{"field":"cond","type":"nominal","sort":null,"scale":{"domain":["Mock","NC","miR-181c-5p mimic"],"range":[327,407],"paddingInner":0.36,"paddingOuter":0.38,"align":0.06},"axis":null},
    "y":{"field":"value","type":"quantitative","scale":{"domain":[0,1.5],"range":[423,295],"nice":false,"zero":false},"axis":null}}},
  {"data":{"name":"d1"},"mark":{"type":"rule","color":"black","strokeWidth":1.2},
   "encoding":{"x":{"field":"cond","type":"nominal","sort":null,"scale":{"domain":["Mock","NC","miR-181c-5p mimic"],"range":[327,407],"paddingInner":0.36,"paddingOuter":0.38,"align":0.06},"axis":null},
    "y":{"field":"value","type":"quantitative","scale":{"domain":[0,1.5],"range":[423,295],"nice":false,"zero":false},"axis":null},"y2":{"field":"upper"}}},
  {"data":{"name":"d1"},"mark":{"type":"point","shape":"stroke","size":49,"color":"black","strokeWidth":1.2,"opacity":1},
   "encoding":{"x":{"field":"cond","type":"nominal","sort":null,"scale":{"domain":["Mock","NC","miR-181c-5p mimic"],"range":[327,407],"paddingInner":0.36,"paddingOuter":0.38,"align":0.06},"axis":null},
    "y":{"field":"upper","type":"quantitative","scale":{"domain":[0,1.5],"range":[423,295],"nice":false,"zero":false},"axis":null}}},
  {"data":{"name":"d1"},"transform":[{"filter":"isValid(datum.sig)"}],"mark":{"type":"text","fontSize":13,"baseline":"alphabetic","dy":0,"fill":"#444444"},
   "encoding":{"x":{"field":"cond","type":"nominal","sort":null,"scale":{"domain":["Mock","NC","miR-181c-5p mimic"],"range":[327,407],"paddingInner":0.36,"paddingOuter":0.38,"align":0.06},"axis":null},
    "y":{"field":"upper","type":"quantitative","scale":{"domain":[0,1.5],"range":[423,295],"nice":false,"zero":false},"axis":null},"text":{"field":"sig"}}},
  {"data":{"name":"letters"},"transform":[{"filter":"datum.id==='D1'"}],"mark":{"type":"text","fontSize":9.5,"fontWeight":"bold","align":"center","baseline":"middle","dy":-7,"color":"black"},
   "encoding":{"x":{"datum":"NC","type":"nominal","scale":{"domain":["Mock","NC","miR-181c-5p mimic"],"range":[327,407],"paddingInner":0.36,"paddingOuter":0.38,"align":0.06},"axis":null},
    "y":{"datum":1.5,"type":"quantitative","scale":{"domain":[0,1.5],"range":[423,295],"nice":false,"zero":false},"axis":null},"text":{"field":"t"}}},
  {"data":{"name":"letters"},"transform":[{"filter":"datum.id==='D'"}],"mark":{"type":"text","fontSize":22,"fontWeight":"bold","align":"center","baseline":"middle","dx":-21,"dy":-22,"color":"black"},
   "encoding":{"x":{"datum":0,"type":"quantitative","scale":{"domain":[0,1],"range":[327,407]},"axis":null},
    "y":{"datum":1.5,"type":"quantitative","scale":{"domain":[0,1.5],"range":[423,295],"nice":false,"zero":false},"axis":null},"text":{"field":"t"}}}
 ],"resolve":{"scale":{"x":"independent"}}},
 {"layer":[
  {"data":{"name":"one"},"mark":{"type":"rule","color":"black","strokeWidth":1.4},
   "encoding":{"x":{"datum":0,"type":"quantitative","scale":{"domain":[0,1],"range":[454,538]},"axis":null},"y":{"datum":0,"type":"quantitative","scale":{"domain":[0,1.5],"range":[423,295],"nice":false,"zero":false},"axis":null},"y2":{"datum":1.5}}},
  {"data":{"name":"one"},"mark":{"type":"rule","color":"black","strokeWidth":1.4},
   "encoding":{"x":{"datum":0,"type":"quantitative","scale":{"domain":[0,1],"range":[454,538]},"axis":null},"x2":{"datum":1},"y":{"datum":0,"type":"quantitative","scale":{"domain":[0,1.5],"range":[423,295],"nice":false,"zero":false},"axis":null}}},
  {"data":{"name":"dticks"},"mark":{"type":"rule","color":"black","strokeWidth":1.2,"xOffset":-3},
   "encoding":{"x":{"datum":0,"type":"quantitative","scale":{"domain":[0,1],"range":[454,538]},"axis":null},"x2":{"datum":0},"y":{"field":"v","type":"quantitative","scale":{"domain":[0,1.5],"range":[423,295],"nice":false,"zero":false},"axis":null}}},
  {"data":{"name":"dticks"},"mark":{"type":"text","align":"right","baseline":"middle","fontSize":7.5,"fontWeight":"bold","dx":-4,"color":"black"},
   "encoding":{"x":{"datum":0,"type":"quantitative","scale":{"domain":[0,1],"range":[454,538]},"axis":null},"y":{"field":"v","type":"quantitative","scale":{"domain":[0,1.5],"range":[423,295],"nice":false,"zero":false},"axis":null},"text":{"field":"v","type":"quantitative","format":".1f"}}},
  {"data":{"name":"letters"},"transform":[{"filter":"datum.id==='DT'"}],"mark":{"type":"text","align":"center","baseline":"middle","fontSize":10,"fontWeight":"bold","angle":270,"xOffset":-21,"color":"black"},
   "encoding":{"x":{"datum":0,"type":"quantitative","scale":{"domain":[0,1],"range":[454,538]},"axis":null},"y":{"datum":0.77,"type":"quantitative","scale":{"domain":[0,1.5],"range":[423,295],"nice":false,"zero":false},"axis":null},"text":{"field":"t"}}},
  {"data":{"name":"d2"},"mark":{"type":"text","align":"right","baseline":"middle","fontSize":7,"angle":315,"yOffset":5,"color":"black"},
   "encoding":{"x":{"field":"cond","type":"nominal","sort":null,"scale":{"domain":["Mock","NC","miR-181c-5p mimic"],"range":[454,538],"paddingInner":0.36,"paddingOuter":0.47,"align":0.14},"axis":null},"y":{"datum":0,"type":"quantitative","scale":{"domain":[0,1.5],"range":[423,295],"nice":false,"zero":false},"axis":null},"text":{"field":"cond"}}},
  {"data":{"name":"d2"},"mark":{"type":"bar","color":"black"},
   "encoding":{"x":{"field":"cond","type":"nominal","sort":null,"scale":{"domain":["Mock","NC","miR-181c-5p mimic"],"range":[454,538],"paddingInner":0.36,"paddingOuter":0.47,"align":0.14},"axis":null},
    "y":{"field":"value","type":"quantitative","scale":{"domain":[0,1.5],"range":[423,295],"nice":false,"zero":false},"axis":null}}},
  {"data":{"name":"d2"},"mark":{"type":"rule","color":"black","strokeWidth":1.2},
   "encoding":{"x":{"field":"cond","type":"nominal","sort":null,"scale":{"domain":["Mock","NC","miR-181c-5p mimic"],"range":[454,538],"paddingInner":0.36,"paddingOuter":0.47,"align":0.14},"axis":null},
    "y":{"field":"value","type":"quantitative","scale":{"domain":[0,1.5],"range":[423,295],"nice":false,"zero":false},"axis":null},"y2":{"field":"upper"}}},
  {"data":{"name":"d2"},"mark":{"type":"point","shape":"stroke","size":49,"color":"black","strokeWidth":1.2,"opacity":1},
   "encoding":{"x":{"field":"cond","type":"nominal","sort":null,"scale":{"domain":["Mock","NC","miR-181c-5p mimic"],"range":[454,538],"paddingInner":0.36,"paddingOuter":0.47,"align":0.14},"axis":null},
    "y":{"field":"upper","type":"quantitative","scale":{"domain":[0,1.5],"range":[423,295],"nice":false,"zero":false},"axis":null}}},
  {"data":{"name":"d2"},"transform":[{"filter":"isValid(datum.sig)"}],"mark":{"type":"text","fontSize":13,"baseline":"alphabetic","dy":-1,"fill":"#444444"},
   "encoding":{"x":{"field":"cond","type":"nominal","sort":null,"scale":{"domain":["Mock","NC","miR-181c-5p mimic"],"range":[454,538],"paddingInner":0.36,"paddingOuter":0.47,"align":0.14},"axis":null},
    "y":{"field":"upper","type":"quantitative","scale":{"domain":[0,1.5],"range":[423,295],"nice":false,"zero":false},"axis":null},"text":{"field":"sig"}}},
  {"data":{"name":"letters"},"transform":[{"filter":"datum.id==='D2'"}],"mark":{"type":"text","fontSize":9.5,"fontWeight":"bold","align":"center","baseline":"middle","dy":-7,"color":"black"},
   "encoding":{"x":{"datum":"NC","type":"nominal","scale":{"domain":["Mock","NC","miR-181c-5p mimic"],"range":[454,538],"paddingInner":0.36,"paddingOuter":0.47,"align":0.14},"axis":null},
    "y":{"datum":1.5,"type":"quantitative","scale":{"domain":[0,1.5],"range":[423,295],"nice":false,"zero":false},"axis":null},"text":{"field":"t"}}}
 ],"resolve":{"scale":{"x":"independent"}}},
 {"layer":[
  {"data":{"name":"blot"},"mark":{"type":"rect","fill":"#f3f3f3","stroke":"#4a4a4a","strokeWidth":1},
   "encoding":{"x":{"datum":0,"type":"quantitative","scale":{"domain":[0,1],"range":[595,693]},"axis":null},"x2":{"datum":1},
    "y":{"field":"protein","type":"nominal","scale":{"domain":["smad7","TGIF2","β-Tubulin"],"range":[335,422],"paddingInner":0.13,"paddingOuter":0},"axis":null}}},
  {"data":{"name":"bands"},"mark":{"type":"point","filled":true,"color":"#1c1c1c","stroke":"#3a3a3a","strokeWidth":1.2,"strokeOpacity":0.5},
   "encoding":{"x":{"field":"lane","type":"nominal","sort":null,"scale":{"domain":["Mock","NC","miR-181c-5p mimc"],"range":[595,693],"paddingInner":0,"paddingOuter":0},"axis":null},
    "y":{"field":"protein","type":"nominal","scale":{"domain":["smad7","TGIF2","β-Tubulin"],"range":[335,422],"paddingInner":0.13,"paddingOuter":0},"axis":null},
    "shape":{"field":"protein","type":"nominal","scale":{"domain":["smad7","TGIF2","β-Tubulin"],"range":["M -1 0 C -1 -0.149 -0.552 -0.27 0 -0.27 C 0.552 -0.27 1 -0.149 1 0 C 1 0.149 0.552 0.27 0 0.27 C -0.552 0.27 -1 0.149 -1 0 Z","M -1 0 C -1 -0.094 -0.552 -0.17 0 -0.17 C 0.552 -0.17 1 -0.094 1 0 C 1 0.094 0.552 0.17 0 0.17 C -0.552 0.17 -1 0.094 -1 0 Z","M -1 0 C -1 -0.21 -0.552 -0.38 0 -0.38 C 0.552 -0.38 1 -0.21 1 0 C 1 0.21 0.552 0.38 0 0.38 C -0.552 0.38 -1 0.21 -1 0 Z"]},"legend":null},
    "size":{"field":"intensity","type":"quantitative","scale":{"domain":[0.3,1.05],"range":[380,840],"zero":false},"legend":null},
    "opacity":{"field":"intensity","type":"quantitative","scale":{"domain":[0.3,1.05],"range":[0.35,0.95],"zero":false},"legend":null}}},
  {"data":{"name":"markers"},"mark":{"type":"text","align":"right","baseline":"middle","fontSize":4.6,"fontWeight":"bold","dx":-24,"color":"#111"},
   "encoding":{"x":{"datum":0,"type":"quantitative","scale":{"domain":[0,1],"range":[595,693]},"axis":null},
    "y":{"field":"protein","type":"nominal","scale":{"domain":["smad7","TGIF2","β-Tubulin"],"range":[335,422],"paddingInner":0.13,"paddingOuter":0},"axis":null},
    "yOffset":{"field":"pos","type":"nominal","scale":{"type":"point","domain":["top","bottom"],"padding":0.3}},"text":{"field":"label"}}},
  {"data":{"name":"markers"},"mark":{"type":"point","shape":"stroke","size":256,"color":"#222","strokeWidth":1,"xOffset":-13,"opacity":1},
   "encoding":{"x":{"datum":0,"type":"quantitative","scale":{"domain":[0,1],"range":[595,693]},"axis":null},
    "y":{"field":"protein","type":"nominal","scale":{"domain":["smad7","TGIF2","β-Tubulin"],"range":[335,422],"paddingInner":0.13,"paddingOuter":0},"axis":null},
    "yOffset":{"field":"pos","type":"nominal","scale":{"type":"point","domain":["top","bottom"],"padding":0.3}}}},
  {"data":{"name":"blot"},"mark":{"type":"text","align":"left","baseline":"middle","fontSize":15.5,"fontWeight":"bold","dx":14,"color":"#111"},
   "encoding":{"x":{"datum":1,"type":"quantitative","scale":{"domain":[0,1],"range":[595,693]},"axis":null},
    "y":{"field":"protein","type":"nominal","scale":{"domain":["smad7","TGIF2","β-Tubulin"],"range":[335,422],"paddingInner":0.13,"paddingOuter":0},"axis":null},"text":{"field":"protein"}}},
  {"data":{"name":"lanes"},"mark":{"type":"text","align":"left","baseline":"alphabetic","fontSize":17,"fontWeight":"bold","angle":315,"xOffset":-5,"yOffset":-17,"color":"#111"},
   "encoding":{"x":{"field":"lane","type":"nominal","sort":null,"scale":{"domain":["Mock","NC","miR-181c-5p mimc"],"range":[595,693],"paddingInner":0,"paddingOuter":0},"axis":null},
    "y":{"datum":"smad7","type":"nominal","scale":{"domain":["smad7","TGIF2","β-Tubulin"],"range":[335,422],"paddingInner":0.13,"paddingOuter":0},"axis":null},"text":{"field":"lane"}}},
  {"data":{"name":"letters"},"transform":[{"filter":"datum.id==='E'"}],"mark":{"type":"text","fontSize":22,"fontWeight":"bold","align":"center","baseline":"middle","dx":-29,"dy":-75,"color":"black"},
   "encoding":{"x":{"datum":0,"type":"quantitative","scale":{"domain":[0,1],"range":[595,693]},"axis":null},
    "y":{"datum":"smad7","type":"nominal","scale":{"domain":["smad7","TGIF2","β-Tubulin"],"range":[335,422],"paddingInner":0.13,"paddingOuter":0},"axis":null},"text":{"field":"t"}}}
 ],"resolve":{"scale":{"x":"independent","yOffset":"independent"}}}
],
"resolve":{"scale":{"x":"independent","y":"independent","xOffset":"independent","yOffset":"independent","color":"independent","fill":"independent","size":"independent","opacity":"independent","shape":"independent"},"axis":{"x":"independent","y":"independent"},"legend":{"fill":"independent"}}
}
